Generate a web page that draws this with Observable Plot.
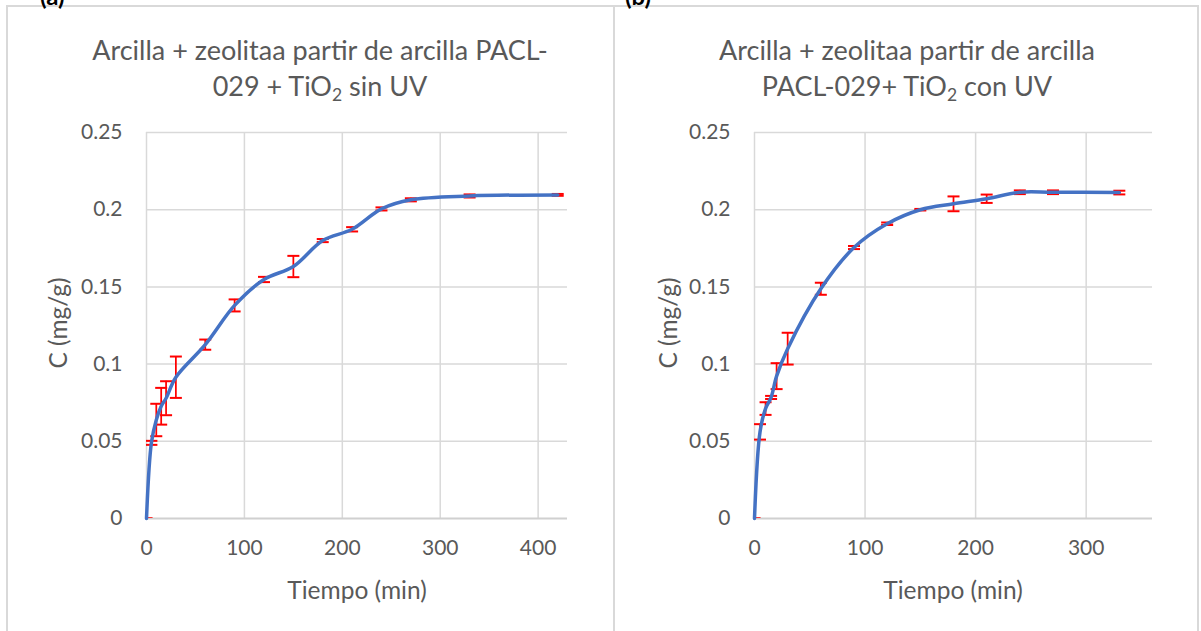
<!DOCTYPE html>
<html><head><meta charset="utf-8">
<script src="https://cdn.jsdelivr.net/npm/d3@7"></script>
<script src="https://cdn.jsdelivr.net/npm/@observablehq/plot@0.6"></script>
<style>
body{margin:0;background:#fff;width:1201px;height:631px;overflow:hidden;position:relative;font-family:Lato,"Noto Sans",sans-serif;color:#595959}
.panel{position:absolute;top:5px;height:700px;box-sizing:border-box;border:2px solid #d9d9d9;}
.tag{position:absolute;top:-16px;font-weight:bold;color:#000;font-size:24px;line-height:24px}
.title{position:absolute;width:600px;text-align:center;font-size:27px;line-height:36px;top:32px;white-space:nowrap}
.title sub{font-size:0.65em;line-height:0;vertical-align:-0.3em}
.xl{position:absolute;font-size:24.5px;line-height:28px;transform:translate(-50%,-50%);white-space:nowrap}
.yl{position:absolute;font-size:24.5px;line-height:28px;transform:translate(-50%,-50%) rotate(-90deg);white-space:nowrap}
.chart{position:absolute;top:110px}
</style></head>
<body>
<div class="panel" style="left:6px;width:609px"></div>
<div class="panel" style="left:613px;width:586px"></div>
<div class="tag" style="left:40px">(a)</div>
<div class="tag" style="left:625px">(b)</div>
<div class="title" style="left:20px">Arcilla + zeolitaa partir de arcilla PACL-<br>029 + TiO<sub>2</sub> sin UV</div>
<div class="title" style="left:607px">Arcilla + zeolitaa partir de arcilla<br>PACL-029+ TiO<sub>2</sub> con UV</div>
<div class="yl" style="left:58px;top:323px">C (mg/g)</div>
<div class="yl" style="left:668px;top:323px">C (mg/g)</div>
<div class="xl" style="left:357px;top:590px">Tiempo (min)</div>
<div class="xl" style="left:953px;top:590px">Tiempo (min)</div>
<div id="ca" class="chart" style="left:0px"></div>
<div id="cb" class="chart" style="left:613px"></div>
<script>
// Panel (a): sin UV
const timeA = [0, 5, 10, 15, 20, 30, 60, 90, 120, 150, 180, 210, 240, 270, 330, 420];
const concA = [0, 0.049, 0.0638, 0.0727, 0.0779, 0.0915, 0.1126, 0.138, 0.1548, 0.1632, 0.180, 0.1873, 0.2005, 0.2064, 0.2089, 0.2096];
const errA  = [0, 0.0013, 0.0105, 0.0119, 0.011, 0.0134, 0.0033, 0.0039, 0.0017, 0.0069, 0.001, 0.0014, 0.001, 0.001, 0.001, 0.0006];
// Panel (b): con UV
const timeB = [0, 5, 10, 15, 20, 30, 60, 90, 120, 150, 180, 210, 240, 270, 330];
const concB = [0, 0.0561, 0.0712, 0.0784, 0.0922, 0.110, 0.1488, 0.1755, 0.1909, 0.200, 0.2038, 0.2071, 0.2113, 0.2113, 0.2111];
const errB  = [0, 0.005, 0.0041, 0.001, 0.0084, 0.0103, 0.0039, 0.001, 0.0008, 0.0005, 0.0048, 0.0027, 0.0012, 0.0012, 0.0012];
// Tick labels
const yTicks = [0, 0.05, 0.1, 0.15, 0.2, 0.25];
const yTickLabels = ["0", "0.05", "0.1", "0.15", "0.2", "0.25"];
const xTicksA = [0, 100, 200, 300, 400];
const xTicksB = [0, 100, 200, 300];

const capSymbol = {draw(ctx, size){const h = Math.sqrt(size/Math.PI); ctx.moveTo(-h,0); ctx.lineTo(h,0);}};

function chart(times, conc, err, xTicks, xMax, width, mL, mR){
  const data = times.map((t,i)=>({t, c: conc[i], e: err[i]}));
  return Plot.plot({
    width, height: 521,
    marginLeft: mL, marginRight: mR, marginTop: 22, marginBottom: 113,
    style: {fontFamily: "Lato, 'Noto Sans', sans-serif", fontSize: "21px", color: "#595959", background: "transparent", overflow: "visible"},
    x: {domain: [0, xMax], ticks: xTicks, tickFormat: d => String(d), tickSize: 0, tickPadding: 22, label: null},
    y: {domain: [0, 0.25], ticks: yTicks, tickFormat: d => yTickLabels[yTicks.indexOf(d)], tickSize: 0, tickPadding: 24, label: null},
    marks: [
      Plot.ruleY(yTicks.filter(d => d > 0), {stroke: "#d9d9d9", strokeWidth: 1.5}),
      Plot.ruleX(xTicks, {stroke: "#d9d9d9", strokeWidth: 1.5}),
      Plot.ruleY([0], {stroke: "#d0d0d0", strokeWidth: 2}),
      Plot.ruleX(data, {x: "t", y1: d => d.c - d.e, y2: d => d.c + d.e, stroke: "#ff0000", strokeWidth: 1.75}),
      Plot.dot(data, {x: "t", y: d => d.c + d.e, symbol: capSymbol, r: 6, stroke: "#ff0000", strokeWidth: 2, fill: "none", clip: true}),
      Plot.dot(data, {x: "t", y: d => d.c - d.e, symbol: capSymbol, r: 6, stroke: "#ff0000", strokeWidth: 2, fill: "none", clip: true}),
      Plot.line(data, {x: "t", y: "c", curve: "catmull-rom", stroke: "#4472c4", strokeWidth: 3.5})
    ]
  });
}
document.getElementById("ca").append(chart(timeA, concA, errA, xTicksA, 430, 613, 146, 46));
document.getElementById("cb").append(chart(timeB, concB, errB, xTicksB, 360, 588, 141, 49));
</script>
</body></html>
